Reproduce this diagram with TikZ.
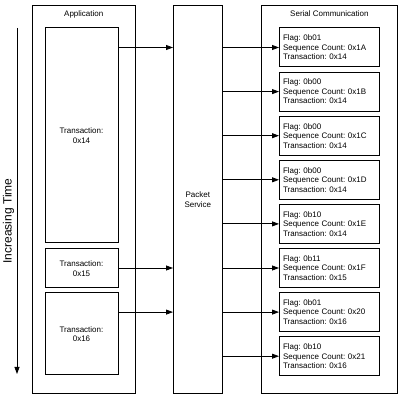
\documentclass[tikz,border=0pt]{standalone}
\usepackage{fontspec}
\setmainfont{Liberation Sans}
\usetikzlibrary{positioning,arrows.meta}
\frenchspacing
\begin{document}
\begin{tikzpicture}[x=1pt,y=1pt]
    \tikzstyle{lane} = [rectangle, draw, line width=1pt, outer sep=0pt, minimum height=388pt]
    \tikzstyle{txn} = [rectangle, draw, line width=1pt, outer sep=0pt, minimum width=73pt, align=center, font=\fontsize{8}{9.5}\selectfont]
    \tikzstyle{pkt} = [rectangle, draw, line width=1pt, outer sep=0pt, minimum width=100pt, minimum height=39pt, inner sep=4pt, align=left, text width=92pt, font=\fontsize{8}{9.5}\selectfont]
    \tikzstyle{title} = [inner sep=0pt, font=\fontsize{8}{9.5}\selectfont]
    \tikzstyle{arr} = [-{Triangle[length=7pt,width=5pt]}, line width=0.8pt]
    \useasboundingbox (0,0) rectangle (405,405);

    \node [lane, minimum width=102.5pt] (app) at (83.75,205) {};
    \node [lane, minimum width=49.7pt, align=center, font=\fontsize{8}{10}\selectfont] (packet) at (197.85,205) {Packet\\Service};
    \node [lane, minimum width=135.3pt] (serial) at (329.35,205) {};
    \node [title, below=4.5pt of app.north] (apptitle) {Application};
    \node [title, below=4.5pt of serial.north] (serialtitle) {Serial Communication};

    \node [txn, minimum height=215pt] (t14) at (81.5,269.5) {Transaction:\\0x14};
    \node [txn, minimum height=39pt, below=6pt of t14] (t15) {Transaction:\\0x15};
    \node [txn, minimum height=82pt, below=5pt of t15] (t16) {Transaction:\\0x16};

    \node [pkt] (s1) at (329,357.5) {Flag: 0b01\\Sequence Count: 0x1A\\Transaction: 0x14};
    \node [pkt, below=5.1pt of s1] (s2) {Flag: 0b00\\Sequence Count: 0x1B\\Transaction: 0x14};
    \node [pkt, below=5.1pt of s2] (s3) {Flag: 0b00\\Sequence Count: 0x1C\\Transaction: 0x14};
    \node [pkt, below=5.1pt of s3] (s4) {Flag: 0b00\\Sequence Count: 0x1D\\Transaction: 0x14};
    \node [pkt, below=5.1pt of s4] (s5) {Flag: 0b10\\Sequence Count: 0x1E\\Transaction: 0x14};
    \node [pkt, below=5.1pt of s5] (s6) {Flag: 0b11\\Sequence Count: 0x1F\\Transaction: 0x15};
    \node [pkt, below=5.1pt of s6] (s7) {Flag: 0b01\\Sequence Count: 0x20\\Transaction: 0x16};
    \node [pkt, below=5.1pt of s7] (s8) {Flag: 0b10\\Sequence Count: 0x21\\Transaction: 0x16};

    \coordinate (tstart) at (17,377);
    \coordinate (tend) at (17,31);
    \node [rotate=90, font=\fontsize{12}{14}\selectfont] (timelabel) at (8.5,184) {Increasing Time};

    \draw[arr] (tstart) -- (tend);
    \draw[arr] (t14.east |- s1.west) -- (packet.west |- s1.west);
    \draw[arr] (t15.east |- s6.west) -- (packet.west |- s6.west);
    \draw[arr] (t16.east |- s7.west) -- (packet.west |- s7.west);
    \foreach \s in {s1,s2,s3,s4,s5,s6,s7,s8}
        \draw[arr] (packet.east |- \s.west) -- (\s.west);
\end{tikzpicture}
\end{document}
